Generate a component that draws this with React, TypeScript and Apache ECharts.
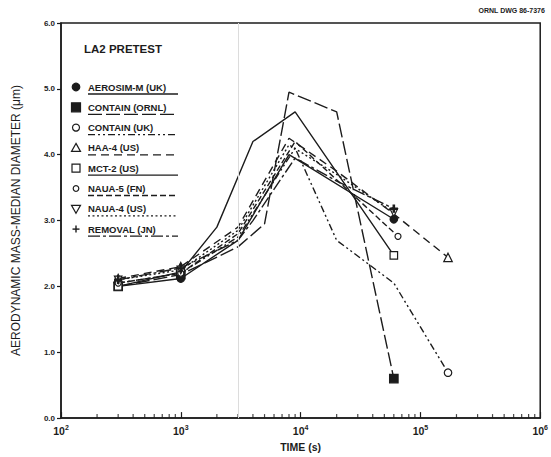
import React, { useEffect, useRef } from "react";
import * as echarts from "echarts";

// ---- data (time in s, AMMD in µm) ----
const aerosimT = [300, 1000, 3000, 8000, 60000];
const aerosimV = [2.0, 2.12, 2.7, 4.0, 3.02];
const containOrnlT = [300, 1000, 3000, 5000, 8000, 20000, 60000];
const containOrnlV = [2.0, 2.18, 2.6, 2.95, 4.95, 4.65, 0.6];
const containUkT = [300, 1000, 3000, 9000, 20000, 60000, 170000];
const containUkV = [2.05, 2.2, 2.75, 4.1, 2.7, 2.05, 0.69];
const haa4T = [300, 1000, 3000, 8000, 20000, 60000, 170000];
const haa4V = [2.12, 2.3, 2.9, 4.25, 3.75, 3.1, 2.44];
const mct2T = [300, 1000, 2000, 4000, 9000, 60000];
const mct2V = [2.0, 2.22, 2.9, 4.2, 4.65, 2.47];
const naua5T = [300, 1000, 3000, 9000, 65000];
const naua5V = [2.05, 2.2, 2.8, 4.2, 2.76];
const naua4T = [300, 1000, 3000, 8000, 20000, 60000];
const naua4V = [2.1, 2.25, 2.85, 4.15, 3.7, 3.12];
const removalT = [300, 1000, 3000, 4000, 9000, 20000, 60000];
const removalV = [2.1, 2.28, 2.7, 3.0, 3.95, 3.6, 3.18];

const seriesNames = [
  "AEROSIM-M (UK)",
  "CONTAIN (ORNL)",
  "CONTAIN (UK)",
  "HAA-4 (US)",
  "MCT-2 (US)",
  "NAUA-5 (FN)",
  "NAUA-4 (US)",
  "REMOVAL (JN)",
];
const minorTickTimes = [
  200, 300, 400, 500, 600, 700, 800, 900,
  2000, 3000, 4000, 5000, 6000, 7000, 8000, 9000,
  20000, 30000, 40000, 50000, 60000, 70000, 80000, 90000,
  200000, 300000, 400000, 500000, 600000, 700000, 800000, 900000,
];

const INK = "#1c1c1c";
const PLUS = "path://M4,0h2v4h4v2h-4v4h-2v-4h-4v-2h4z";

const seriesDefs = [
  { t: aerosimT, v: aerosimV, symbol: "circle", size: 7.5, fill: INK, rotate: 0, dash: "solid" as any },
  { t: containOrnlT, v: containOrnlV, symbol: "rect", size: 8.5, fill: INK, rotate: 0, dash: [14, 4] },
  { t: containUkT, v: containUkV, symbol: "circle", size: 7.5, fill: "#fff", rotate: 0, dash: [7, 3, 2, 3, 2, 3] },
  { t: haa4T, v: haa4V, symbol: "triangle", size: 8.5, fill: "#fff", rotate: 0, dash: [8, 5] },
  { t: mct2T, v: mct2V, symbol: "rect", size: 7.5, fill: "#fff", rotate: 0, dash: "solid" as any },
  { t: naua5T, v: naua5V, symbol: "circle", size: 6, fill: "#fff", rotate: 0, dash: [6, 3] },
  { t: naua4T, v: naua4V, symbol: "triangle", size: 7.5, fill: "#fff", rotate: 180, dash: [2, 2.5] },
  { t: removalT, v: removalV, symbol: PLUS, size: 7, fill: INK, rotate: 0, dash: [12, 3, 3, 3] },
];

function legendGraphics() {
  const els: any[] = [];
  const x0 = 76;
  const tx = 88;
  seriesNames.forEach((name, i) => {
    const y = 87 + i * 20.3;
    const d = seriesDefs[i];
    const st = { fill: d.fill, stroke: INK, lineWidth: 1.2 };
    if (i === 0) els.push({ type: "circle", shape: { cx: x0, cy: y, r: 3.8 }, style: st });
    else if (i === 1) els.push({ type: "rect", shape: { x: x0 - 4.5, y: y - 4.5, width: 9, height: 9 }, style: st });
    else if (i === 2) els.push({ type: "circle", shape: { cx: x0, cy: y, r: 3.5 }, style: st });
    else if (i === 3)
      els.push({ type: "polygon", shape: { points: [[x0, y - 4.5], [x0 + 4.5, y + 3.5], [x0 - 4.5, y + 3.5]] }, style: st });
    else if (i === 4) els.push({ type: "rect", shape: { x: x0 - 4, y: y - 4, width: 8, height: 8 }, style: st });
    else if (i === 5) els.push({ type: "circle", shape: { cx: x0, cy: y, r: 2.8 }, style: st });
    else if (i === 6)
      els.push({ type: "polygon", shape: { points: [[x0, y + 4.5], [x0 + 4.5, y - 3.5], [x0 - 4.5, y - 3.5]] }, style: st });
    else {
      els.push({ type: "line", shape: { x1: x0 - 3.5, y1: y, x2: x0 + 3.5, y2: y }, style: { stroke: INK, lineWidth: 1.4 } });
      els.push({ type: "line", shape: { x1: x0, y1: y - 3.5, x2: x0, y2: y + 3.5 }, style: { stroke: INK, lineWidth: 1.4 } });
    }
    els.push({
      type: "text",
      x: tx,
      y: y,
      style: {
        text: name,
        fill: INK,
        font: "bold 9.5px 'Liberation Sans', Arial, sans-serif",
        textVerticalAlign: "middle",
        verticalAlign: "middle",
      },
    });
    els.push({
      type: "line",
      shape: { x1: tx, y1: y + 7, x2: tx + 90, y2: y + 7 },
      style: { stroke: INK, lineWidth: 1.3, lineDash: d.dash === "solid" ? null : d.dash },
    });
  });
  return els;
}

export default function App() {
  const ref = useRef<HTMLDivElement>(null);
  useEffect(() => {
    if (!ref.current) return;
    const chart = echarts.init(ref.current, null, { renderer: "svg" });
    const lineSeries = seriesDefs.map((d, i) => ({
      name: seriesNames[i],
      type: "line",
      data: d.t.map((t, k) => ({
        value: [t, d.v[k]],
        symbol: k < 2 || k === d.t.length - 1 ? d.symbol : "none",
      })),
      symbolSize: d.size,
      symbolRotate: d.rotate,
      showAllSymbol: true,
      itemStyle: { color: d.fill, borderColor: INK, borderWidth: 1.2 },
      lineStyle: { color: INK, width: 1.4, type: d.dash },
      z: 3,
    }));
    const option: any = {
      animation: false,
      backgroundColor: "#fff",
      grid: { left: 61, right: 4, top: 23, bottom: 38, show: true, borderColor: INK, borderWidth: 1.5 },
      xAxis: {
        type: "log",
        logBase: 10,
        min: 100,
        max: 1000000,
        name: "TIME (s)",
        nameLocation: "middle",
        nameGap: 22,
        nameTextStyle: { color: INK, fontSize: 10.5, fontWeight: "bold", fontFamily: "'Liberation Sans', Arial, sans-serif" },
        axisLine: { lineStyle: { color: INK, width: 1.5 } },
        axisTick: { inside: true, length: 6, lineStyle: { color: INK, width: 1.2 } },
        splitLine: { show: false },
        axisLabel: {
          color: INK,
          margin: 6,
          formatter: (v: number) => `{b|10}{s|${Math.round(Math.log10(v))}}`,
          rich: {
            b: { fontSize: 10.5, fontWeight: "bold", fontFamily: "'Liberation Sans', Arial, sans-serif", color: INK },
            s: { fontSize: 7, fontWeight: "bold", verticalAlign: "top", padding: [0, 0, 6, 0], fontFamily: "'Liberation Sans', Arial, sans-serif", color: INK },
          },
        },
      },
      yAxis: {
        type: "value",
        min: 0,
        max: 6,
        interval: 1,
        name: "AERODYNAMIC MASS-MEDIAN DIAMETER (\u03bcm)",
        nameLocation: "middle",
        nameGap: 39,
        nameTextStyle: { color: INK, fontSize: 12, fontFamily: "'Liberation Sans', Arial, sans-serif" },
        axisLine: { show: true, lineStyle: { color: INK, width: 1.5 } },
        axisTick: { show: true, length: 4, lineStyle: { color: INK, width: 1.2 } },
        splitLine: { show: false },
        axisLabel: {
          color: INK,
          fontSize: 8,
          fontWeight: "bold",
          margin: 6,
          fontFamily: "'Liberation Sans', Arial, sans-serif",
          formatter: (v: number) => v.toFixed(1),
        },
      },
      graphic: [
        {
          type: "text",
          right: 6,
          top: 7,
          style: { text: "ORNL DWG 86-7376", fill: INK, font: "bold 7px 'Liberation Sans', Arial, sans-serif" },
        },
        {
          type: "text",
          x: 84,
          y: 49,
          style: {
            text: "LA2 PRETEST",
            fill: INK,
            font: "bold 11.5px 'Liberation Sans', Arial, sans-serif",
            textVerticalAlign: "middle",
            verticalAlign: "middle",
          },
        },
        ...legendGraphics(),
      ],
      series: [
        {
          type: "scatter",
          name: "minorTicks",
          data: minorTickTimes.map((t) => [t, 0]),
          symbol: "rect",
          symbolSize: [1.2, 4],
          symbolOffset: [0, -2],
          itemStyle: { color: INK },
          silent: true,
          z: 1,
          markLine: {
            silent: true,
            symbol: ["none", "none"],
            label: { show: false },
            lineStyle: { color: "#dcdcdc", width: 1, type: "solid" },
            data: [{ xAxis: 3000 }],
          },
        },
        ...lineSeries,
      ],
    };
    chart.setOption(option);
    return () => chart.dispose();
  }, []);
  return <div ref={ref} style={{ width: 551, height: 457, position: "absolute", left: 0, top: 0 }} />;
}
